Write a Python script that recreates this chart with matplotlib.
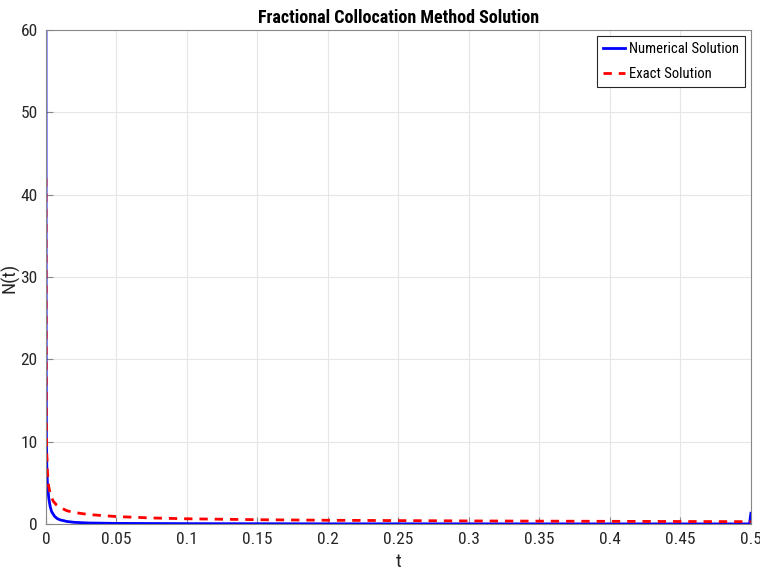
import matplotlib.pyplot as plt

plt.rcParams['font.family'] = ['Roboto Condensed', 'Liberation Sans', 'DejaVu Sans']

t_num = [0, 0.0001, 0.0003, 0.0006, 0.001, 0.0015, 0.002, 0.003, 0.004, 0.006, 0.008, 0.01,
         0.015, 0.02, 0.03, 0.05, 0.1, 0.2, 0.3, 0.4, 0.499, 0.5]
y_num = [60, 20, 10, 7, 5, 4, 3.1, 2.1, 1.5, 0.95, 0.65, 0.5,
         0.3, 0.2, 0.12, 0.07, 0.04, 0.02, 0.015, 0.01, 0.01, 1.3]

t_ex = [0, 0.0002, 0.0005, 0.001, 0.002, 0.003, 0.005, 0.0075, 0.01, 0.015, 0.02, 0.03,
        0.05, 0.075, 0.1, 0.15, 0.2, 0.3, 0.4, 0.5]
y_ex = [42, 14, 9, 6.3, 4.5, 3.7, 2.8, 2.3, 2.0, 1.6, 1.4, 1.15,
        0.9, 0.73, 0.63, 0.52, 0.45, 0.37, 0.32, 0.28]

x_ticks = [0, 0.05, 0.1, 0.15, 0.2, 0.25, 0.3, 0.35, 0.4, 0.45, 0.5]
x_labels = ['0', '0.05', '0.1', '0.15', '0.2', '0.25', '0.3', '0.35', '0.4', '0.45', '0.5']

fig = plt.figure(figsize=(7.6, 5.8), dpi=100)
ax = fig.add_axes([0.0605, 0.0966, 0.9275, 0.8514])

ax.plot(t_num, y_num, color='#0000ff', linewidth=2, label='Numerical Solution')
ax.plot(t_ex, y_ex, color='#ff0000', linewidth=2, linestyle=(0, (3, 2.5)), label='Exact Solution')

ax.set_xlim(0, 0.5)
ax.set_ylim(0, 60)
ax.set_xticks(x_ticks)
ax.set_xticklabels(x_labels)
ax.set_yticks(range(0, 61, 10))
ax.grid(True, color='#e6e6e6', linewidth=0.8)
ax.set_axisbelow(True)
for s in ax.spines.values():
    s.set_color('#888888')
    s.set_linewidth(0.8)
ax.tick_params(direction='in', length=5, color='#888888', labelsize=12.5, labelcolor='#262626', pad=6)

ax.set_xlabel('t', fontsize=14, color='#262626', labelpad=4)
ax.set_ylabel('N(t)', fontsize=14, color='#262626')
ax.yaxis.set_label_coords(-0.037, 0.498)
ax.set_title('Fractional Collocation Method Solution', fontsize=13, fontweight='bold', pad=5)

leg = ax.legend(loc='upper right', fontsize=10.5, fancybox=False, framealpha=1,
                edgecolor='#262626', handlelength=1.5, handletextpad=0.3,
                borderaxespad=0.4, borderpad=0.4, labelspacing=0.75)
leg.get_frame().set_linewidth(0.8)

fig.savefig('out.png', dpi=100)
